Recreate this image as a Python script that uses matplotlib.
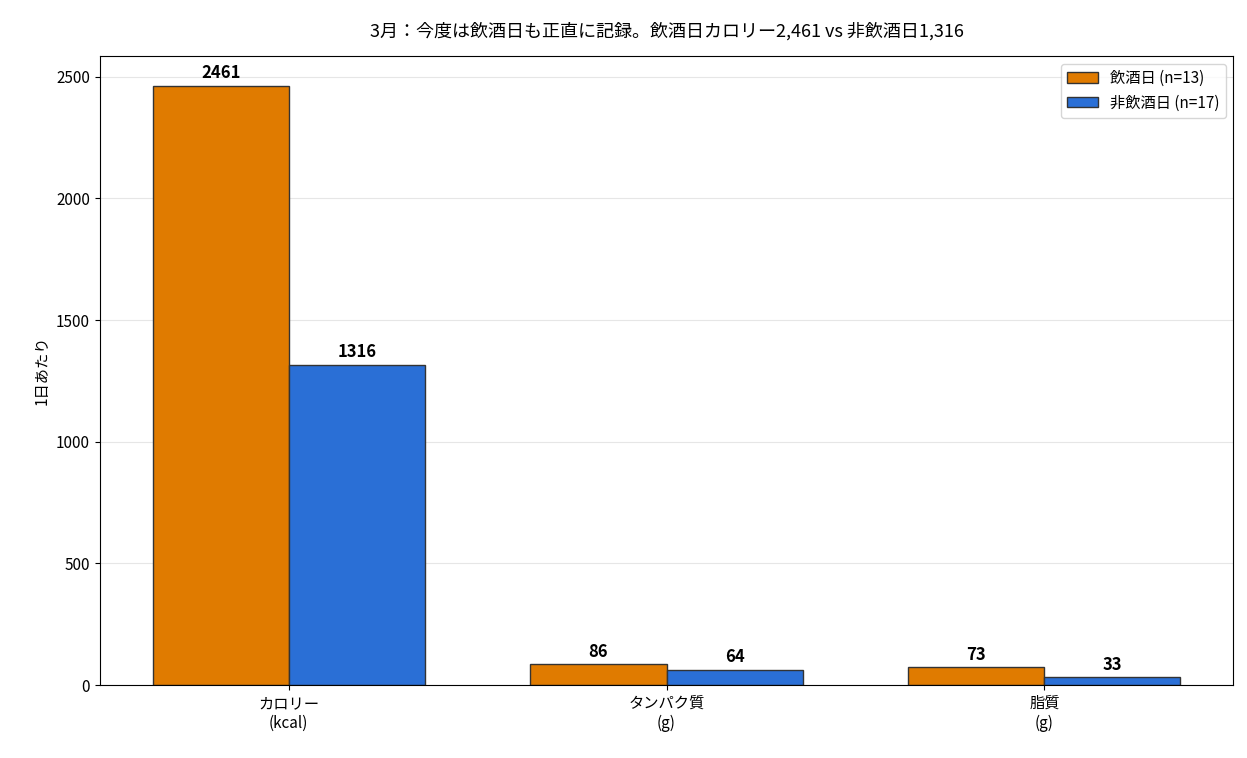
import numpy as np
import matplotlib.pyplot as plt

plt.rcParams['font.family'] = ['Noto Sans CJK JP', 'DejaVu Sans']

# ─── データ ───────────────────────────────────────────
categories  = ["カロリー\n(kcal)", "タンパク質\n(g)", "脂質\n(g)"]
drink_vals  = [2461, 86, 73]
nodrink_vals = [1316, 64, 33]
drink_label  = "飲酒日 (n=13)"
nodrink_label = "非飲酒日 (n=17)"
title = "3月：今度は飲酒日も正直に記録。飲酒日カロリー2,461 vs 非飲酒日1,316"

x = np.arange(len(categories))
w = 0.36

fig, ax = plt.subplots(figsize=(12.47, 7.58), dpi=100)
b1 = ax.bar(x - w/2, drink_vals, w, color="#E07B00", edgecolor="#333333", linewidth=1, label=drink_label)
b2 = ax.bar(x + w/2, nodrink_vals, w, color="#2A6FD6", edgecolor="#333333", linewidth=1, label=nodrink_label)

for bars in (b1, b2):
    for b in bars:
        ax.text(b.get_x() + b.get_width()/2, b.get_height() + 15, f"{int(b.get_height())}",
                ha="center", va="bottom", fontsize=12, fontweight="bold")

ax.set_xticks(x)
ax.set_xticklabels(categories, fontsize=11)
ax.set_xlim(-0.5, 2.5)
ax.set_ylabel("1日あたり", fontsize=11)
ax.set_title(title, fontsize=13, pad=14)
ax.yaxis.grid(True, color="#e6e6e6")
ax.set_axisbelow(True)
ax.tick_params(axis="y", labelsize=11)
ax.legend(loc="upper right", fontsize=11)

plt.subplots_adjust(left=0.08, right=0.989, top=0.926, bottom=0.096)
plt.savefig("out.png", dpi=100)
